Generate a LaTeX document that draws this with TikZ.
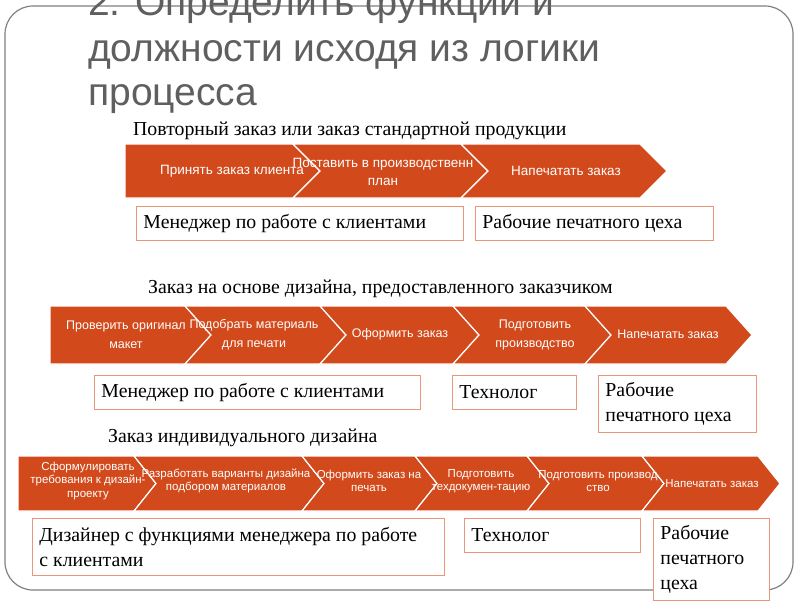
\documentclass[tikz,border=0pt]{standalone}
\usepackage{fontspec}
\setmainfont{Liberation Serif}
\setsansfont{Liberation Sans}
\usepackage{xcolor}
\usepackage{tikz}

\definecolor{chevfill}{HTML}{D24A1C}
\definecolor{boxline}{HTML}{E8957A}
\definecolor{titlegray}{HTML}{5F5F5F}
\definecolor{framegray}{HTML}{808080}

% first step of a row: flat left end
\newcommand\homeplate[5]{%
  \fill[chevfill, draw=white, line width=1.2pt] (#1,#3) -- (#2,#3) -- ({#2+#5},{(#3+#4)/2}) -- (#2,#4) -- (#1,#4) -- cycle;}
% later steps: notched left end
\newcommand\chevron[5]{%
  \fill[chevfill, draw=white, line width=1.2pt] (#1,#3) -- (#2,#3) -- ({#2+#5},{(#3+#4)/2}) -- (#2,#4) -- (#1,#4) -- ({#1+#5},{(#3+#4)/2}) -- cycle;}

\tikzset{
  titletext/.style={anchor=base west, inner sep=0pt, text=titlegray, font=\sffamily\fontsize{39}{45}\selectfont},
  subtext/.style={anchor=base west, inner sep=0pt, font=\fontsize{19.8}{22}\selectfont},
  steptext/.style={text=white, align=center, inner sep=0pt},
  rolebox/.style={draw=boxline, fill=white, line width=0.9pt, anchor=north west, align=flush left,
    inner xsep=7pt, inner ysep=3pt, font=\fontsize{19.8}{25}\selectfont},
}

\begin{document}
\begin{tikzpicture}[x=1pt, y=-1pt]
    \useasboundingbox (0,0) rectangle (800,600);
    \clip (0,0) rectangle (800,600);

    \draw[framegray, line width=1.2pt, rounded corners=28pt] (5,6) rectangle (793,590);

    % title
    \node[titletext] (title1) at (88,15) {2. Определить функции и};
    \node[titletext] (title2) at (88,61) {должности исходя из логики};
    \node[titletext] (title3) at (88,105) {процесса};

    % row 1
    \node[subtext] (sub1) at (133,135) {Повторный заказ или заказ стандартной продукции};
    \homeplate{125}{293}{144}{198}{27}
    \chevron{293}{461}{144}{198}{27}
    \chevron{461}{640}{144}{198}{27}
    \begin{scope}[font=\sffamily\fontsize{13.5}{18}\selectfont]
        \node[steptext] (s1a) at (232,171) {Принять заказ клиента};
        \node[steptext] (s1b) at (383,172) {Поставить в производственн\\план};
        \node[steptext] (s1c) at (566,171) {Напечатать заказ};
    \end{scope}
    \node[rolebox, minimum width=327pt, minimum height=34pt, text width=313pt] (r1a) at (136,206) {Менеджер по работе с клиентами};
    \node[rolebox, minimum width=238pt, minimum height=34pt, text width=224pt] (r1b) at (475,206) {Рабочие печатного цеха};

    % row 2
    \node[subtext] (sub2) at (148,293) {Заказ на основе дизайна, предоставленного заказчиком};
    \homeplate{50}{185}{306}{364}{26}
    \chevron{185}{320}{306}{364}{26}
    \chevron{320}{453}{306}{364}{26}
    \chevron{453}{585}{306}{364}{26}
    \chevron{585}{726}{306}{364}{26}
    \begin{scope}[font=\sffamily\fontsize{12.5}{19}\selectfont]
        \node[steptext] (s2a) at (126,335) {Проверить оригинал\\макет};
        \node[steptext] (s2b) at (254,335) {Подобрать материаль\\для печати};
        \node[steptext] (s2c) at (400,334) {Оформить заказ};
        \node[steptext] (s2d) at (535,335) {Подготовить\\производство};
        \node[steptext] (s2e) at (668,334) {Напечатать заказ};
    \end{scope}
    \node[rolebox, minimum width=326pt, minimum height=34pt, text width=312pt] (r2a) at (94,375) {Менеджер по работе с клиентами};
    \node[rolebox, minimum width=124pt, minimum height=34pt, text width=110pt] (r2b) at (452,375) {Технолог};
    \node[rolebox, minimum width=158pt, minimum height=57pt, text width=144pt] (r2c) at (598,375) {Рабочие\\печатного цеха};

    % row 3
    \node[subtext] (sub3) at (108,442) {Заказ индивидуального дизайна};
    \homeplate{18}{134}{456}{511}{22}
    \chevron{134}{302}{456}{511}{22}
    \chevron{302}{415}{456}{511}{22}
    \chevron{415}{527}{456}{511}{22}
    \chevron{527}{642}{456}{511}{22}
    \chevron{642}{758}{456}{511}{22}
    \begin{scope}[font=\sffamily\fontsize{11.5}{13.5}\selectfont]
        \node[steptext] (s3a) at (88,481) {Сформулировать\\требования к дизайн-\\проекту};
        \node[steptext] (s3b) at (226,481) {Разработать варианты дизайна\\подбором материалов};
        \node[steptext] (s3c) at (369,481) {Оформить заказ на\\печать};
        \node[steptext] (s3d) at (481,481) {Подготовить\\техдокумен-тацию};
        \node[steptext] (s3e) at (598,481) {Подготовить производ\\ство};
        \node[steptext] (s3f) at (712,484) {Напечатать заказ};
    \end{scope}
    \node[rolebox, minimum width=412pt, minimum height=57pt, text width=398pt] (r3a) at (32,518) {Дизайнер с функциями менеджера по работе\\с клиентами};
    \node[rolebox, minimum width=176pt, minimum height=34pt, text width=162pt] (r3b) at (464,518) {Технолог};
    \node[rolebox, minimum width=116pt, minimum height=82pt, text width=102pt] (r3c) at (653,518) {Рабочие\\печатного\\цеха};
\end{tikzpicture}
\end{document}
